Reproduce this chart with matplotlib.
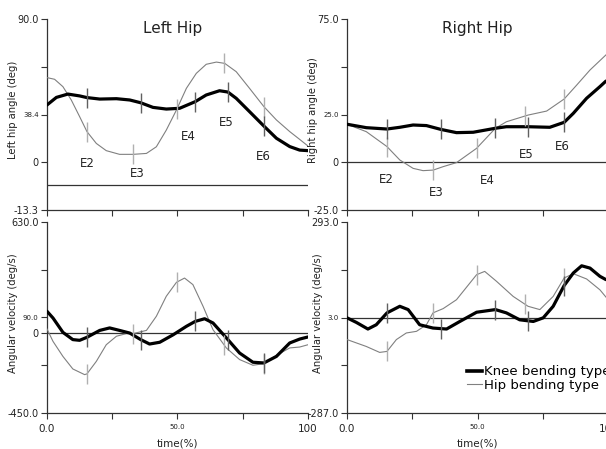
import numpy as np
import matplotlib
matplotlib.use("Agg")
import matplotlib.pyplot as plt
from matplotlib.lines import Line2D
from matplotlib import font_manager

# ---------------- data (time in %) ----------------
# Left hip angle (deg)
lh_knee_t = [0, 3.6, 8.0, 12.5, 15.3, 20.2, 26.6, 31.7, 35.9, 40.6, 45.7, 50.8, 56.8,
             61.0, 66.1, 69.3, 72.5, 77.6, 83.1, 87.9, 93.0, 96.8, 100]
lh_knee_v = [43.5, 47.6, 49.4, 48.4, 47.5, 46.7, 46.9, 46.2, 44.7, 42.2, 41.3, 41.7, 45.3,
             48.9, 51.2, 50.5, 47.1, 39.9, 32.1, 25.5, 21.0, 19.1, 18.8]
lh_hip_t = [0, 2.9, 6.1, 9.3, 12.5, 15.3, 18.9, 22.7, 27.8, 33.0, 38.1, 41.9, 45.7, 49.6,
            53.4, 57.2, 61.0, 64.9, 68.1, 72.5, 77.6, 83.1, 87.9, 93.0, 96.8, 100]
lh_hip_v = [58.3, 57.4, 53.4, 46.2, 37.2, 29.1, 22.7, 18.8, 16.8, 16.8, 17.3, 20.9, 29.9, 40.8,
            52.5, 60.6, 65.5, 66.7, 66.0, 61.5, 52.5, 42.6, 35.4, 29.1, 24.9, 21.3]

# Right hip angle (deg)
rh_knee_t = [0, 7.4, 15.3, 20.2, 25.3, 30.4, 35.9, 41.9, 48.3, 56.8, 61.0, 69.3, 77.6, 83.1,
             86.6, 91.7, 96.8, 99.1]
rh_knee_v = [19.9, 18.1, 17.4, 18.3, 19.5, 19.2, 17.2, 15.5, 15.7, 17.8, 18.6, 18.6, 18.3, 20.9,
             25.6, 33.5, 39.6, 42.5]
rh_hip_t = [0, 7.4, 15.3, 20.2, 25.3, 29.1, 33.0, 36.8, 41.9, 49.6, 56.8, 61.0, 69.3, 76.4,
            83.1, 87.9, 93.0, 99.1]
rh_hip_v = [19.9, 16.0, 8.2, 1.2, -3.2, -4.4, -4.1, -2.3, -0.2, 7.3, 17.8, 21.2, 24.7, 26.8,
            33.1, 40.4, 48.3, 56.2]

# Left hip angular velocity (deg/s)
lv_knee_t = [0, 2.3, 6.1, 9.9, 12.5, 15.3, 20.2, 24.0, 27.8, 31.7, 35.9, 39.3, 43.2, 48.3,
             53.4, 56.8, 60.4, 63.6, 69.3, 73.8, 78.9, 83.1, 87.9, 93.0, 96.8, 100]
lv_knee_v = [125, 87, 6, -35, -39, -22, 17, 31, 17, 2, -35, -60, -50, -8,
             40, 68, 83, 59, -35, -111, -163, -167, -130, -54, -32, -20]
lv_hip_t = [0, 2.3, 6.1, 9.9, 14.4, 15.3, 18.9, 22.7, 26.6, 30.4, 33.0, 38.1, 41.9, 45.7,
            49.6, 52.7, 55.9, 59.8, 63.6, 68.7, 73.8, 78.9, 83.1, 87.9, 93.0, 96.8, 100]
lv_hip_v = [25, -45, -130, -201, -233, -229, -158, -64, -16, -1, -1, 17, 97, 210,
            289, 313, 276, 153, 21, -82, -148, -180, -171, -124, -82, -77, -64]

# Right hip angular velocity (deg/s)
rv_knee_t = [0, 3.6, 8.0, 11.2, 15.3, 20.2, 23.4, 27.8, 32.9, 38.1, 43.2, 49.6, 56.8, 61.0,
             66.1, 71.3, 75.1, 78.9, 83.1, 86.6, 89.8, 93.0, 96.8, 99.1]
rv_knee_v = [2, -12, -32, -19, 17, 37, 27, -19, -29, -32, -9, 19, 27, 17,
             -4, -9, 2, 37, 100, 138, 160, 153, 128, 118]
rv_hip_t = [0, 7.4, 12.5, 15.3, 18.9, 22.7, 26.6, 30.4, 32.9, 36.8, 41.9, 49.6, 52.7, 57.2,
            63.6, 69.3, 73.8, 78.9, 83.1, 86.6, 91.7, 96.8, 99.1]
rv_hip_v = [-64, -85, -103, -100, -64, -44, -39, -19, 17, 30, 57, 133, 143, 113,
            67, 37, 27, 67, 123, 136, 120, 87, 65]

# event times (%)
knee_events = [15.3, 35.9, 56.8, 69.3, 83.1]
hip_events = [15.3, 33.0, 49.7, 68.0, 83.1]

event_names = ["E2", "E3", "E4", "E5", "E6"]
lh_label_t = [15.3, 34.5, 54.0, 68.6, 82.8]
lh_label_v = [12.1, 6.2, 26.2, 33.8, 15.9]
rh_label_t = [15.2, 34.3, 53.7, 68.5, 82.3]
rh_label_v = [-8.8, -15.6, -9.3, 4.3, 8.0]

# ---------------- fonts ----------------
names = {f.name for f in font_manager.fontManager.ttflist}
NARROW = "Liberation Sans Narrow" if "Liberation Sans Narrow" in names else "DejaVu Sans"
narrow_ok = NARROW != "DejaVu Sans"

# ---------------- figure ----------------
W, H = 606, 449
fig = plt.figure(figsize=(W / 100, H / 100), dpi=100)

def px_axes(x0, x1, ytop, ybot):
    return fig.add_axes([x0 / W, (H - ybot) / H, (x1 - x0) / W, (ybot - ytop) / H])

ax_lt = px_axes(47, 308, 19, 210)
ax_rt = px_axes(347, 608.3, 19, 210)
ax_lb = px_axes(47, 308, 222, 413)
ax_rb = px_axes(347, 608.3, 222, 413)

THICK = dict(color="black", lw=2.3, solid_capstyle="round", zorder=4)
THIN = dict(color="#808080", lw=0.8, zorder=3)
TXT = "#222222"

def style(ax, ylim, yticks, ylabels, ysizes, ylabel, xlabels=False):
    ax.set_xlim(0, 100)
    ax.set_ylim(*ylim)
    for s in ("top", "right"):
        ax.spines[s].set_visible(False)
    for s in ("left", "bottom"):
        ax.spines[s].set_color("#333333")
        ax.spines[s].set_linewidth(0.9)
    ax.set_yticks(yticks)
    ax.set_yticklabels(ylabels)
    for lab, sz in zip(ax.get_yticklabels(), ysizes):
        lab.set_fontsize(sz)
        lab.set_color(TXT)
    ax.tick_params(axis="both", direction="out", length=4, width=0.8, color="#333333", pad=2)
    ax.set_xticks([0, 25, 50, 75, 100])
    if xlabels:
        ax.set_xticklabels(["0.0", "", "50.0", "", "100"])
        for lab, sz in zip(ax.get_xticklabels(), [7.5, 7, 5, 7, 7.5]):
            lab.set_fontsize(sz)
            lab.set_color(TXT)
        ax.tick_params(axis="x", pad=4)
        ax.set_xlabel("time(%)", fontsize=7.5, color=TXT, labelpad=3)
    else:
        ax.set_xticklabels([])
    ax.set_ylabel(ylabel, fontsize=7.2, color=TXT)
    ax.patch.set_alpha(0)

def draw(ax, kt, kv, ht, hv):
    ax.plot(ht, hv, **THIN)
    ax.plot(kt, kv, **THICK)
    ky = np.interp(knee_events, kt, kv)
    hy = np.interp(hip_events, ht, hv)
    ax.plot(hip_events, hy, ls="none", marker="|", ms=15, mew=1.0, color="#b0b0b0", zorder=5)
    ax.plot(knee_events, ky, ls="none", marker="|", ms=15, mew=1.0, color="#606060", zorder=5)

ELBL = dict(fontsize=10 if narrow_ok else 8.5, family=NARROW, ha="center", va="center", color=TXT)

# Left top
style(ax_lt, (-13.3, 90.0), list(np.linspace(-13.3, 90.0, 5)),
      ["-13.3", "0", "38.4", "", "90.0"], [7, 7, 5, 7, 7], "Left hip angle (deg)")
ax_lt.axhline(0, color="#333333", lw=0.9, zorder=2)
draw(ax_lt, lh_knee_t, lh_knee_v, lh_hip_t, lh_hip_v)
for n, t, v in zip(event_names, lh_label_t, lh_label_v):
    ax_lt.text(t, v, n, **ELBL)
ax_lt.text(0.483, 0.948, "Left Hip", transform=ax_lt.transAxes, fontsize=11,
           ha="center", va="center", color=TXT)

# Right top
style(ax_rt, (-25.0, 75.0), [-25, 0, 25, 50, 75],
      ["-25.0", "0", "25.0", "", "75.0"], [7, 7, 5, 7, 7], "Right hip angle (deg)")
ax_rt.axhline(0, color="#333333", lw=0.9, zorder=2)
draw(ax_rt, rh_knee_t, rh_knee_v, rh_hip_t, rh_hip_v)
for n, t, v in zip(event_names, rh_label_t, rh_label_v):
    ax_rt.text(t, v, n, **ELBL)
ax_rt.text(0.4975, 0.948, "Right Hip", transform=ax_rt.transAxes, fontsize=11,
           ha="center", va="center", color=TXT)

# Left bottom
style(ax_lb, (-450.0, 630.0), [-450, -180, 0, 90, 360, 630],
      ["-450.0", "", "0", "90.0", "", "630.0"], [7, 7, 7, 5, 7, 7],
      "Angular velocity (deg/s)", xlabels=True)
ax_lb.axhline(0, color="#333333", lw=0.9, zorder=2)
draw(ax_lb, lv_knee_t, lv_knee_v, lv_hip_t, lv_hip_v)

# Right bottom
style(ax_rb, (-287.0, 293.0), [-287, -142, 3, 148, 293],
      ["-287.0", "", "3.0", "", "293.0"], [7, 7, 5, 7, 7],
      "Angular velocity (deg/s)", xlabels=True)
ax_rb.axhline(3.0, color="#333333", lw=0.9, zorder=2)
draw(ax_rb, rv_knee_t, rv_knee_v, rv_hip_t, rv_hip_v)

for ax, x in ((ax_lt, -0.111), (ax_rt, -0.111), (ax_lb, -0.111), (ax_rb, -0.092)):
    ax.yaxis.set_label_coords(x, 0.524)

handles = [Line2D([], [], color="black", lw=2.6),
           Line2D([], [], color="#808080", lw=0.8)]
ax_rb.legend(handles, ["Knee bending type", "Hip bending type"], loc="upper left",
             bbox_to_anchor=(0.459, 0.250), frameon=False,
             prop=dict(family=NARROW, size=12.5 if narrow_ok else 9.5),
             handlelength=1.15, handletextpad=0.15, labelspacing=0.05,
             borderpad=0, borderaxespad=0)

fig.savefig("out.png", dpi=100)
